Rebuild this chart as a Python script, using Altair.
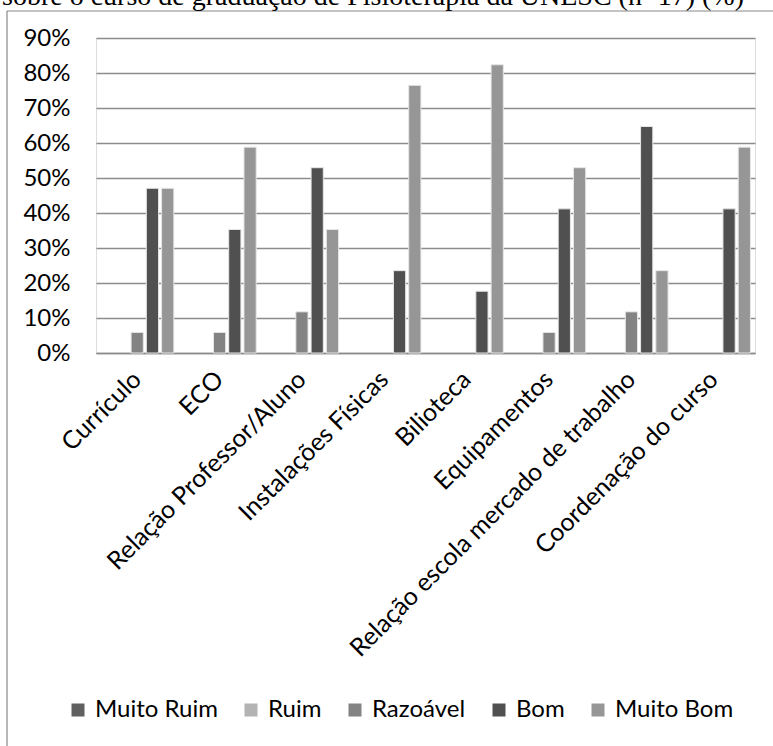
import altair as alt
import pandas as pd

categories = ["Currículo", "ECO", "Relação Professor/Aluno", "Instalações Físicas",
              "Bilioteca", "Equipamentos", "Relação escola mercado de trabalho",
              "Coordenação do curso"]
series = ["Muito Ruim", "Ruim", "Razoável", "Bom", "Muito Bom"]
muito_ruim = [0, 0, 0, 0, 0, 0, 0, 0]
ruim = [0, 0, 0, 0, 0, 0, 0, 0]
razoavel = [5.88, 5.88, 11.76, 0, 0, 5.88, 11.76, 0]
bom = [47.06, 35.29, 52.94, 23.53, 17.65, 41.18, 64.71, 41.18]
muito_bom = [47.06, 58.82, 35.29, 76.47, 82.35, 52.94, 23.53, 58.82]
colors = ["#606060", "#b3b3b3", "#838383", "#505050", "#969696"]
y_ticks = [0, 0.1, 0.2, 0.3, 0.4, 0.5, 0.6, 0.7, 0.8, 0.9]
title_text = "sobre o curso de graduação de Fisioterapia da UNESC (n=17) (%)"

rows = []
for s, vals in zip(series, [muito_ruim, ruim, razoavel, bom, muito_bom]):
    for c, v in zip(categories, vals):
        rows.append({"cat": c, "s": s, "v": v / 100.0})
df = pd.DataFrame(rows)

W, H = 659, 315
FONT = "Lato"

bars = alt.Chart(df).transform_filter("datum.v > 0").mark_bar(
    stroke="#e6e6e6", strokeWidth=1
).encode(
    x=alt.X("cat:N", sort=categories,
            scale=alt.Scale(domain=categories, paddingInner=0, paddingOuter=0),
            axis=alt.Axis(title=None, labelAngle=-45, labelAlign="right",
                          labelBaseline="middle", labelPadding=22,
                          labelFont=FONT, labelFontSize=25, labelColor="#000000",
                          labelLimit=600, ticks=False, domain=True,
                          domainColor="#8c8c8c", domainWidth=1.3, grid=False)),
    xOffset=alt.XOffset("s:N", scale=alt.Scale(domain=series, paddingInner=0.2,
                                               paddingOuter=0.3)),
    y=alt.Y("v:Q", scale=alt.Scale(domain=[0, 0.9], nice=False),
            axis=alt.Axis(title=None, format=".0%", values=y_ticks,
                          labelFont=FONT, labelFontSize=24, labelColor="#000000",
                          labelPadding=26, ticks=False, domain=False,
                          grid=True, gridColor="#8c8c8c", gridWidth=1.3)),
    color=alt.Color("s:N", scale=alt.Scale(domain=series, range=colors),
                    legend=alt.Legend(title=None, orient="none", legendX=-30,
                                      legendY=660, direction="horizontal",
                                      symbolType="square", symbolSize=169,
                                      symbolStrokeWidth=0, labelFont=FONT,
                                      labelFontSize=24, labelColor="#000000",
                                      labelOffset=5, columnPadding=21))
)

frame_df = pd.DataFrame({"a": [0]})
top_line = alt.Chart(frame_df).mark_rule(color="#888888", strokeWidth=1.2).encode(
    x=alt.value(-89), x2=alt.value(700), y=alt.value(-27))
left_line = alt.Chart(frame_df).mark_rule(color="#888888", strokeWidth=1.2).encode(
    x=alt.value(-89), y=alt.value(-27), y2=alt.value(720))

title_df = pd.DataFrame({"t": [title_text]})
title = alt.Chart(title_df).mark_text(
    font="Liberation Serif", fontSize=28, align="left", baseline="alphabetic",
    color="#000000"
).encode(text="t:N", x=alt.value(-94), y=alt.value(-33))

chart = alt.layer(bars, top_line, left_line, title).properties(
    width=W, height=H,
    autosize=alt.AutoSizeParams(type="none"),
    padding={"left": 96, "top": 38, "right": 18, "bottom": 393}
).configure_view(stroke=None).configure(background="#ffffff")

chart.save("out.html", embed_options={"renderer": "svg", "actions": False})
